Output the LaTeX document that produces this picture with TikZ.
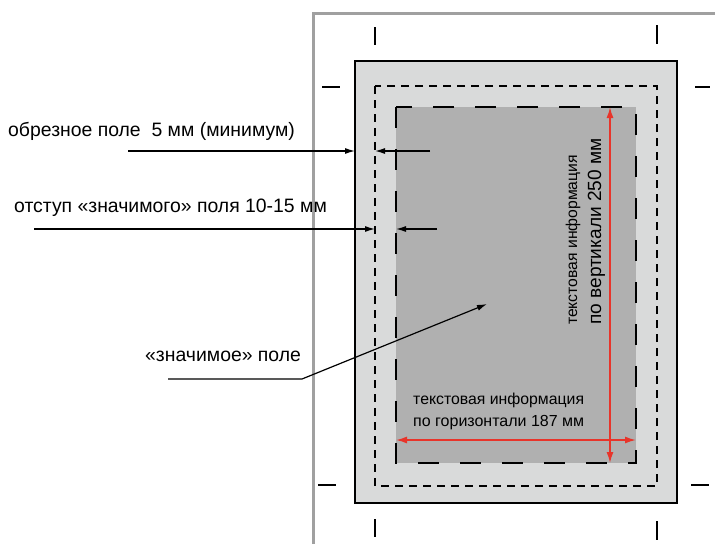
\documentclass[tikz,border=0pt]{standalone}
\usepackage{fontspec}
\setmainfont{Liberation Sans}
\usetikzlibrary{arrows.meta}
\definecolor{bleedgray}{HTML}{D9DADA}
\definecolor{safegray}{HTML}{B0B0B0}
\definecolor{framegray}{HTML}{A0A0A0}
\definecolor{arrred}{HTML}{E8342A}
\tikzset{
  sheetframe/.style={draw=framegray, line width=3pt},
  bleedbox/.style={draw=black, fill=bleedgray, line width=1.6pt},
  trimbox/.style={draw=black, line width=1.6pt, dash pattern=on 8pt off 6pt},
  safebox/.style={draw=black, fill=safegray, line width=1.6pt, dash pattern=on 21pt off 21pt, dash phase=0pt},
  cropmark/.style={draw=black, line width=1.5pt},
  pointer/.style={draw=black, line width=1.2pt, -{Latex[length=10pt,width=6pt]}},
  redarrow/.style={draw=arrred, line width=1.5pt, {Latex[length=11pt,width=7pt]}-{Latex[length=11pt,width=7pt]}},
  label/.style={inner sep=0pt, font=\fontsize{19.4}{22}\selectfont},
}
\begin{document}
\begin{tikzpicture}[x=1pt,y=-1pt]
\useasboundingbox (0,0) rectangle (715,544);
% sheet frame
\draw[sheetframe] (313,544) -- (313,13) -- (715,13);
% boxes
\draw[bleedbox] (355,61) rectangle (677,503);
\draw[trimbox] (375,86) rectangle (657,486);
\draw[safebox] (396,107) rectangle (636,463);
% crop marks
\draw[cropmark] (375,27) -- (375,45);
\draw[cropmark] (657,25) -- (657,44);
\draw[cropmark] (375,519) -- (375,537);
\draw[cropmark] (657,521) -- (657,540);
\draw[cropmark] (322,87) -- (340,87);
\draw[cropmark] (695,87) -- (710,87);
\draw[cropmark] (318,485) -- (336,485);
\draw[cropmark] (691,485) -- (709,485);
% coordinates for pointers
\coordinate (bleedL1) at (355,151);
\coordinate (trimL1) at (375,151);
\coordinate (trimL2) at (375,229);
\coordinate (safeL2) at (396,229);
\coordinate (p1s) at (128,151);
\coordinate (p1e) at (430,151);
\coordinate (p2s) at (34,229);
\coordinate (p2e) at (437,229);
\coordinate (p3s) at (168,379);
\coordinate (p3k) at (302,379);
\coordinate (p3e) at (487,304);
% labels
\node[label, anchor=base west] (lbl1) at (8,136.5) {обрезное поле\ \ 5 мм (минимум)};
\node[label, anchor=base west] (lbl2) at (14,212) {отступ «значимого» поля 10-15 мм};
\node[label, anchor=base west] (lbl3) at (145,361.5) {«значимое» поле};
% pointers
\draw[pointer] (p1s) -- (bleedL1);
\draw[pointer] (p1e) -- (trimL1);
\draw[pointer] (p2s) -- (trimL2);
\draw[pointer] (p2e) -- (safeL2);
\draw[pointer] (p3s) -- (p3k) -- (p3e);
% red dimension arrows
\coordinate (vtop) at (610,107);
\coordinate (vbot) at (610,463);
\coordinate (hleft) at (396,440);
\coordinate (hright) at (636,440);
\draw[redarrow] (vtop) -- (vbot);
\draw[redarrow] (hleft) -- (hright);
% vertical text
\node[inner sep=0pt, rotate=90, anchor=base west, font=\fontsize{15.7}{18}\selectfont] (vt1) at (577,325) {текстовая информация};
\node[inner sep=0pt, rotate=90, anchor=base west, font=\fontsize{19.1}{22}\selectfont] (vt2) at (601,325) {по вертикали 250 мм};
% horizontal text
\node[inner sep=0pt, anchor=base west, font=\fontsize{15.8}{18}\selectfont] (ht1) at (413,404) {текстовая информация};
\node[inner sep=0pt, anchor=base west, font=\fontsize{16}{18}\selectfont] (ht2) at (413,426) {по горизонтали 187 мм};
\end{tikzpicture}
\end{document}
